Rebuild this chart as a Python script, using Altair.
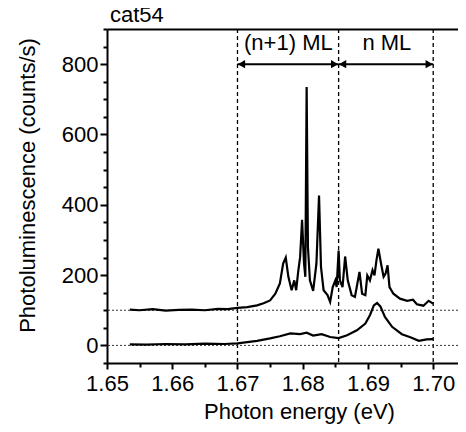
import altair as alt
import pandas as pd

# ---- data ----
upper_x = [1.6535, 1.6550, 1.6570, 1.6590, 1.6610, 1.6630, 1.6650, 1.6670, 1.6685, 1.6700,
           1.6715, 1.6730, 1.6740, 1.6750, 1.6758, 1.6765, 1.6770, 1.6774, 1.6778, 1.6783,
           1.6787, 1.6790, 1.6793, 1.6796, 1.6799, 1.6802, 1.6804, 1.6806, 1.6808, 1.6811,
           1.6816, 1.6821, 1.6825, 1.6828, 1.6832, 1.6838, 1.6842, 1.6846, 1.6850, 1.6852,
           1.6855, 1.6857, 1.6861, 1.6865, 1.6869, 1.6875, 1.6880, 1.6887, 1.6891, 1.6896,
           1.6899, 1.6903, 1.6907, 1.6910, 1.6913, 1.6916, 1.6920, 1.6924, 1.6927, 1.6930,
           1.6933, 1.6939, 1.6949, 1.6960, 1.6969, 1.6975, 1.6985, 1.6993, 1.7000]
upper_y = [102, 100, 103, 99, 101, 102, 100, 104, 103, 107,
           109, 114, 120, 128, 147, 176, 233, 250, 195, 157,
           185, 157, 209, 251, 357, 233, 195, 735, 280, 185,
           155, 233, 426, 223, 157, 143, 124, 166, 185, 166,
           270, 185, 166, 253, 185, 143, 138, 209, 147, 143,
           199, 185, 214, 199, 242, 275, 233, 195, 204, 228,
           166, 147, 133, 127, 130, 117, 113, 127, 119]

lower_x = [1.6535, 1.6560, 1.6590, 1.6620, 1.6650, 1.6680, 1.6700, 1.6730, 1.6750, 1.6765,
           1.6781, 1.6796, 1.6806, 1.6816, 1.6829, 1.6842, 1.6855, 1.6868, 1.6883, 1.6896,
           1.6903, 1.6909, 1.6914, 1.6919, 1.6926, 1.6937, 1.6952, 1.6965, 1.6978, 1.6990,
           1.7000]
lower_y = [3, 2, 4, 3, 5, 4, 6, 13, 20, 26,
           34, 32, 36, 28, 32, 24, 21, 29, 43, 62,
           86, 114, 121, 111, 81, 53, 32, 23, 13, 17,
           18]

vlines = [1.67, 1.6855, 1.70]
hlines = [0, 100]
arrow_start = [1.67, 1.6855]
arrow_end = [1.6855, 1.70]
arrow_y = [800, 800]
label_text = ["(n+1) ML", "n ML"]
label_x = [1.6778, 1.6929]
label_y = [860, 860]
chart_title = "cat54"

x_major = [1.65, 1.66, 1.67, 1.68, 1.69, 1.70]
x_minor = [1.655, 1.665, 1.675, 1.685, 1.695]
y_major = [0, 200, 400, 600, 800]
y_minor = [-50, 50, 100, 150, 250, 300, 350, 450, 500, 550, 650, 700, 750, 850, 900]

FONT = "Liberation Sans"
XDOM = [1.65, 1.7038]
YDOM = [-50, 900]

spec = pd.concat([
    pd.DataFrame({"x": upper_x, "y": upper_y, "s": "upper"}),
    pd.DataFrame({"x": lower_x, "y": lower_y, "s": "lower"}),
])

xs = alt.Scale(domain=XDOM, nice=False, zero=False)
ys = alt.Scale(domain=YDOM, nice=False, zero=False)

x_axis = alt.Axis(values=x_major, format=".2f", tickSize=6, tickWidth=2, tickColor="black",
                  labelFontSize=22, labelFont=FONT, labelColor="black", labelPadding=4,
                  labelFlush=False, labelOverlap=False,
                  domainColor="black", domainWidth=2, grid=False, orient="bottom",
                  title="Photon energy (eV)", titleFont=FONT, titleFontSize=22,
                  titleFontWeight="normal", titleColor="black", titleX=192, titleY=55,
                  titleBaseline="alphabetic", titleAnchor="start", titleAlign="center")
y_axis = alt.Axis(values=y_major, tickSize=7, tickWidth=2, tickColor="black",
                  labelFontSize=22, labelFont=FONT, labelColor="black", labelPadding=2,
                  labelFlush=False, labelOverlap=False,
                  domainColor="black", domainWidth=2, grid=False, orient="left",
                  title="Photoluminescence (counts/s)", titleFont=FONT, titleFontSize=22,
                  titleFontWeight="normal", titleColor="black", titleX=-73, titleY=156,
                  titleAngle=-90, titleBaseline="alphabetic", titleAlign="center",
                  titleAnchor="start")
x_minor_axis = alt.Axis(values=x_minor, tickSize=4, tickWidth=2, tickColor="black",
                        labels=False, domain=False, grid=False, title=None, orient="bottom")
y_minor_axis = alt.Axis(values=y_minor, tickSize=4, tickWidth=2, tickColor="black",
                        labels=False, domain=False, grid=False, title=None, orient="left")
x_top_axis = alt.Axis(values=[], ticks=False, labels=False, domain=True, domainColor="black",
                      domainWidth=2, grid=False, title=None, orient="top")

traces = alt.Chart(spec).mark_line(color="black", strokeWidth=2.2).encode(
    x=alt.X("x:Q", scale=xs, axis=x_axis),
    y=alt.Y("y:Q", scale=ys, axis=y_axis),
    detail="s:N",
)

minor = alt.Chart(pd.DataFrame({"x": [1.65], "y": [0]})).mark_point(opacity=0).encode(
    x=alt.X("x:Q", scale=xs, axis=x_minor_axis),
    y=alt.Y("y:Q", scale=ys, axis=y_minor_axis),
)

vrules = alt.Chart(pd.DataFrame({"x": vlines})).mark_rule(
    color="black", strokeWidth=1.3, strokeDash=[4, 3]).encode(
    x=alt.X("x:Q", scale=xs, axis=x_top_axis))

hrules = alt.Chart(pd.DataFrame({"y": hlines})).mark_rule(
    color="#333333", strokeWidth=1, strokeDash=[2, 2]).encode(
    y=alt.Y("y:Q", scale=ys, axis=None))

adf = pd.DataFrame({"x": arrow_start, "x2": arrow_end, "y": arrow_y})
arrows = alt.Chart(adf).mark_rule(color="black", strokeWidth=2).encode(
    x=alt.X("x:Q", scale=xs, axis=None), x2="x2:Q",
    y=alt.Y("y:Q", scale=ys, axis=None))

lheads = alt.Chart(adf).mark_point(shape="triangle-left", filled=True, color="black",
                                   size=70, opacity=1).encode(
    x=alt.X("x:Q", scale=xs, axis=None),
    y=alt.Y("y:Q", scale=ys, axis=None),
    xOffset=alt.value(4))

rheads = alt.Chart(adf).mark_point(shape="triangle-right", filled=True, color="black",
                                   size=70, opacity=1).encode(
    x=alt.X("x2:Q", scale=xs, axis=None),
    y=alt.Y("y:Q", scale=ys, axis=None),
    xOffset=alt.value(-4))

labels = alt.Chart(pd.DataFrame({"t": label_text, "x": label_x, "y": label_y})).mark_text(
    font=FONT, fontSize=22, color="black", baseline="middle", align="center").encode(
    x=alt.X("x:Q", scale=xs, axis=None),
    y=alt.Y("y:Q", scale=ys, axis=None),
    text="t:N")

title_text = alt.Chart(pd.DataFrame({"t": [chart_title]})).mark_text(
    font=FONT, fontSize=22, color="black", baseline="alphabetic", align="left").encode(
    x=alt.value(3), y=alt.value(-7), text="t:N")

chart = alt.layer(minor, vrules, hrules, traces, arrows, lheads, rheads, labels,
                  title_text).resolve_axis(
    x="independent", y="independent"
).properties(
    width=351, height=334,
    autosize=alt.AutoSizeParams(type="none"),
    padding={"left": 99, "top": 21, "right": 0, "bottom": 61},
).configure_view(stroke=None)

chart.save("out.html", embed_options={"renderer": "svg", "actions": False})
